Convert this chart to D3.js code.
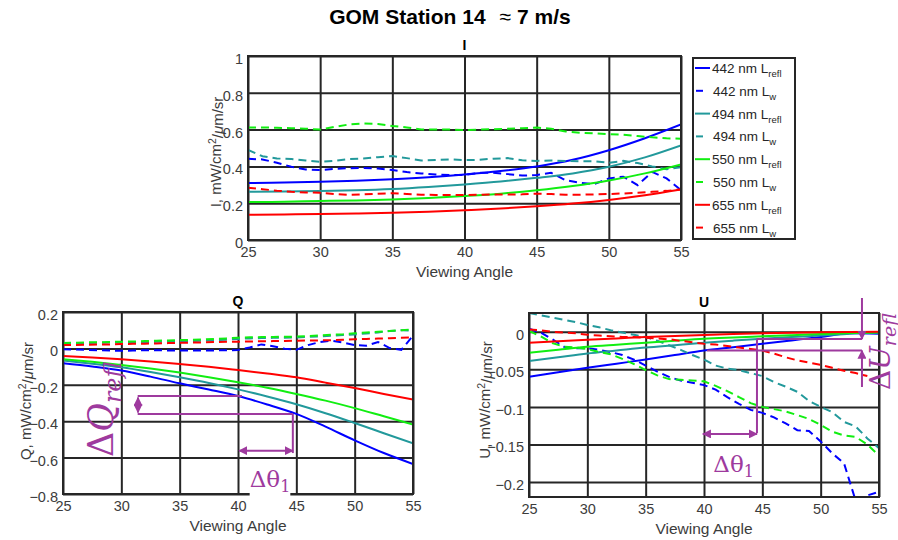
<!DOCTYPE html>
<html>
<head>
<meta charset="utf-8">
<script src="https://cdn.jsdelivr.net/npm/d3@7"></script>
<style>
  body { margin: 0; background: #fff; }
  svg { display: block; }
</style>
</head>
<body>
<svg id="chart" width="898" height="540"></svg>
<script>
// ---- sample angles -------------------------------------------------------
const angles = [25,26,27,28,29,30,31,32,33,34,35,36,37,38,39,40,41,42,43,44,45,46,47,48,49,50,51,52,53,54,55];
const smoothAngles = [25,27.5,30,32.5,35,37.5,40,42.5,45,47.5,50,52.5,55];
const xTicks = [25,30,35,40,45,50,55];
const iTicks = [0,0.2,0.4,0.6,0.8,1];
const qTicks = [-0.8,-0.6,-0.4,-0.2,0,0.2];
const uTicks = [-0.2,-0.15,-0.1,-0.05,0];
const wavelengths = ["442","494","550","655"];

// ---- I: reflected radiance (smooth) and water-leaving radiance ------------
const iRefl442 = [0.310,0.312,0.316,0.322,0.330,0.341,0.356,0.375,0.400,0.436,0.488,0.553,0.628];
const iRefl494 = [0.262,0.263,0.266,0.270,0.277,0.288,0.302,0.318,0.338,0.362,0.398,0.449,0.514];
const iRefl550 = [0.206,0.208,0.212,0.215,0.220,0.228,0.239,0.252,0.270,0.293,0.323,0.362,0.411];
const iRefl655 = [0.137,0.139,0.141,0.144,0.148,0.154,0.162,0.171,0.183,0.198,0.218,0.243,0.274];
const iLw442 = [0.441,0.438,0.420,0.398,0.383,0.380,0.387,0.390,0.391,0.388,0.380,0.369,0.362,0.356,0.353,0.353,0.365,0.365,0.358,0.350,0.353,0.365,0.325,0.311,0.304,0.335,0.344,0.298,0.370,0.335,0.271];
const iLw494 = [0.490,0.455,0.443,0.440,0.432,0.425,0.430,0.440,0.443,0.450,0.456,0.445,0.432,0.435,0.438,0.434,0.436,0.442,0.445,0.433,0.430,0.432,0.430,0.428,0.428,0.420,0.430,0.418,0.400,0.385,0.395];
const iLw550 = [0.611,0.612,0.610,0.608,0.605,0.600,0.615,0.628,0.633,0.630,0.620,0.612,0.600,0.600,0.600,0.597,0.600,0.602,0.605,0.608,0.611,0.605,0.590,0.583,0.580,0.575,0.572,0.565,0.558,0.553,0.550];
const iLw655 = [0.284,0.276,0.268,0.262,0.258,0.257,0.250,0.245,0.248,0.252,0.254,0.250,0.246,0.245,0.245,0.244,0.246,0.248,0.247,0.248,0.252,0.250,0.246,0.246,0.248,0.250,0.253,0.257,0.262,0.267,0.275];

// ---- Q ---------------------------------------------------------------------
const qRefl442 = [-0.082,-0.100,-0.122,-0.155,-0.192,-0.226,-0.262,-0.308,-0.360,-0.430,-0.505,-0.575,-0.635];
const qRefl494 = [-0.067,-0.084,-0.104,-0.130,-0.159,-0.190,-0.225,-0.264,-0.307,-0.356,-0.410,-0.466,-0.522];
const qRefl550 = [-0.060,-0.074,-0.091,-0.111,-0.133,-0.158,-0.186,-0.216,-0.250,-0.287,-0.328,-0.373,-0.418];
const qRefl655 = [-0.042,-0.050,-0.060,-0.072,-0.086,-0.101,-0.119,-0.138,-0.159,-0.188,-0.218,-0.250,-0.281];
const qLw442 = [-0.005,-0.006,-0.008,-0.010,-0.012,-0.013,-0.012,-0.010,-0.010,-0.011,-0.012,-0.012,-0.011,-0.011,-0.010,-0.009,0.005,0.022,0.012,-0.002,-0.008,0.018,0.035,0.042,0.032,0.018,0.015,0.035,0.002,-0.008,0.070];
const qLw494 = [0.028,0.029,0.030,0.031,0.032,0.033,0.034,0.035,0.036,0.038,0.040,0.041,0.043,0.045,0.048,0.052,0.055,0.057,0.058,0.058,0.060,0.063,0.066,0.070,0.073,0.077,0.082,0.088,0.095,0.100,0.098];
const qLw550 = [0.030,0.031,0.033,0.034,0.035,0.037,0.038,0.040,0.042,0.044,0.046,0.047,0.049,0.052,0.055,0.059,0.061,0.062,0.063,0.064,0.065,0.068,0.071,0.075,0.078,0.083,0.087,0.091,0.096,0.100,0.105];
const qLw655 = [0.018,0.019,0.020,0.021,0.022,0.024,0.025,0.026,0.027,0.029,0.031,0.032,0.033,0.035,0.036,0.037,0.038,0.039,0.040,0.041,0.042,0.043,0.044,0.045,0.047,0.050,0.052,0.054,0.056,0.058,0.060];

// ---- U ---------------------------------------------------------------------
const uRefl442 = [-0.060,-0.054,-0.048,-0.0425,-0.037,-0.031,-0.025,-0.0205,-0.016,-0.0115,-0.007,-0.002,-0.0025];
const uRefl494 = [-0.039,-0.034,-0.029,-0.025,-0.021,-0.0178,-0.0146,-0.0118,-0.0092,-0.0070,-0.0050,-0.0025,-0.0010];
const uRefl550 = [-0.028,-0.024,-0.020,-0.0172,-0.0146,-0.0118,-0.0092,-0.0075,-0.0060,-0.0045,-0.0030,-0.0015,-0.0008];
const uRefl655 = [-0.0146,-0.0125,-0.0106,-0.0088,-0.0070,-0.0055,-0.0042,-0.0030,-0.0020,-0.0012,-0.0006,-0.0002,0.0];
const uLw442 = [0.004,-0.001,-0.010,-0.020,-0.022,-0.022,-0.024,-0.027,-0.031,-0.037,-0.045,-0.053,-0.060,-0.065,-0.068,-0.071,-0.077,-0.087,-0.096,-0.104,-0.108,-0.114,-0.122,-0.131,-0.132,-0.146,-0.162,-0.175,-0.225,-0.218,-0.213];
const uLw494 = [0.025,0.022,0.019,0.016,0.013,0.009,0.006,0.002,-0.001,-0.004,-0.007,-0.012,-0.018,-0.024,-0.031,-0.037,-0.045,-0.049,-0.051,-0.055,-0.059,-0.067,-0.073,-0.080,-0.092,-0.100,-0.107,-0.120,-0.126,-0.142,-0.155];
const uLw550 = [0.001,-0.006,-0.015,-0.020,-0.021,-0.023,-0.027,-0.030,-0.036,-0.043,-0.051,-0.058,-0.063,-0.064,-0.065,-0.066,-0.072,-0.079,-0.087,-0.095,-0.100,-0.103,-0.106,-0.111,-0.116,-0.124,-0.133,-0.138,-0.140,-0.150,-0.165];
const uLw655 = [0.003,0.002,0.000,-0.001,-0.002,-0.004,-0.005,-0.006,-0.007,-0.007,-0.008,-0.009,-0.010,-0.012,-0.014,-0.016,-0.017,-0.019,-0.021,-0.023,-0.025,-0.029,-0.034,-0.038,-0.041,-0.044,-0.048,-0.052,-0.055,-0.059,null];

// ---- styling ----------------------------------------------------------------
const colors = { "442": "#0000ff", "494": "#22999b", "550": "#11ee11", "655": "#ff0000" };
const purple = "#9e3a9e";
const gridColor = "#262626";
const labelColor = "#3c3c3c";
const sansFont = "'Liberation Sans', Arial, sans-serif";
const mathFont = "'DejaVu Serif', 'Liberation Serif', serif";
const dash = "8,5";

const svg = d3.select("#chart");
const defs = svg.append("defs");

["start", "end"].forEach(kind => {
  defs.append("marker")
    .attr("id", "arrow-" + kind)
    .attr("viewBox", "0 0 10 10")
    .attr("refX", kind === "end" ? 9 : 1).attr("refY", 5)
    .attr("markerWidth", 4.5).attr("markerHeight", 4.5)
    .attr("markerUnits", "strokeWidth")
    .attr("orient", "auto")
    .append("path")
    .attr("d", kind === "end" ? "M0,0 L10,5 L0,10 Z" : "M10,0 L0,5 L10,10 Z")
    .attr("fill", purple);
});

// Main title
const title = svg.append("text")
  .attr("x", 450).attr("y", 24)
  .attr("text-anchor", "middle")
  .attr("font-family", sansFont)
  .attr("font-size", 21)
  .attr("font-weight", "bold")
  .attr("fill", "#000");
title.append("tspan").text("GOM Station 14");
title.append("tspan").attr("dx", 14).attr("font-weight", "normal").text("\u2248");
title.append("tspan").attr("dx", 6).text("7 m/s");

function drawPanel(cfg) {
  const x = d3.scaleLinear().domain([25, 55]).range([cfg.left, cfg.right]);
  const y = d3.scaleLinear().domain(cfg.yDomain).range([cfg.bottom, cfg.top]);
  const g = svg.append("g");
  const w = cfg.right - cfg.left, h = cfg.bottom - cfg.top;

  g.append("rect").attr("x", cfg.left).attr("y", cfg.top)
    .attr("width", w).attr("height", h).attr("fill", "#fff");

  // gridded axes
  const xAxis = g.append("g")
    .attr("transform", `translate(0,${cfg.bottom})`)
    .call(d3.axisBottom(x).tickValues(xTicks).tickSize(-h).tickPadding(7).tickFormat(d3.format("d")));
  const yAxis = g.append("g")
    .attr("transform", `translate(${cfg.left},0)`)
    .call(d3.axisLeft(y).tickValues(cfg.yTicks).tickSize(-w).tickPadding(5).tickFormat(cfg.fmt));
  [xAxis, yAxis].forEach(a => {
    a.select(".domain").remove();
    a.selectAll(".tick line").attr("stroke", gridColor).attr("stroke-width", 2);
    a.selectAll(".tick text")
      .attr("fill", labelColor)
      .attr("font-family", sansFont)
      .attr("font-size", 14.5);
  });
  yAxis.selectAll(".tick text").attr("dy", "0.52em");

  // data lines, clipped to the plot box
  const clipId = "clip-" + cfg.name;
  defs.append("clipPath").attr("id", clipId).append("rect")
    .attr("x", cfg.left).attr("y", cfg.top).attr("width", w).attr("height", h);
  const lines = g.append("g").attr("clip-path", `url(#${clipId})`);

  wavelengths.forEach((wl, i) => {
    const refl = cfg.refl[i], lw = cfg.lw[i];
    const smooth = d3.line().curve(d3.curveMonotoneX)
      .x((d, k) => x(smoothAngles[k])).y(d => y(d));
    lines.append("path").datum(refl)
      .attr("d", smooth).attr("fill", "none")
      .attr("stroke", colors[wl]).attr("stroke-width", 2);
    const rough = d3.line().defined(d => d !== null)
      .x((d, k) => x(angles[k])).y(d => y(d));
    lines.append("path").datum(lw)
      .attr("d", rough).attr("fill", "none")
      .attr("stroke", colors[wl]).attr("stroke-width", 2)
      .attr("stroke-dasharray", dash);
  });

  // frame
  g.append("rect").attr("x", cfg.left).attr("y", cfg.top)
    .attr("width", w).attr("height", h)
    .attr("fill", "none").attr("stroke", gridColor).attr("stroke-width", 2);

  // panel title
  g.append("text").attr("x", (cfg.left + cfg.right) / 2).attr("y", cfg.top - 6)
    .attr("text-anchor", "middle").attr("font-family", sansFont)
    .attr("font-size", 14).attr("font-weight", "bold").attr("fill", "#000")
    .text(cfg.name);

  // x label
  g.append("text").attr("x", (cfg.left + cfg.right) / 2).attr("y", cfg.bottom + 37)
    .attr("text-anchor", "middle").attr("font-family", sansFont)
    .attr("font-size", 15.5).attr("fill", labelColor)
    .text("Viewing Angle");

  // y label with superscript and Greek mu
  const yl = g.append("text")
    .attr("transform", `translate(${cfg.yLabelX},${cfg.yLabelY}) rotate(-90)`)
    .attr("text-anchor", "middle").attr("font-family", sansFont)
    .attr("font-size", 15).attr("fill", labelColor);
  yl.append("tspan").text(cfg.name + ", mW/cm");
  yl.append("tspan").attr("dy", "-0.45em").attr("font-size", 10.5).text("2");
  yl.append("tspan").attr("dy", "0.45em").text("/");
  yl.append("tspan").attr("font-style", "italic").text("\u03bc");
  yl.append("tspan").text("m/sr");

  return { x, y, g };
}

const panelI = drawPanel({
  name: "I", left: 248, right: 681, top: 56, bottom: 240,
  yDomain: [0, 1], yTicks: iTicks, fmt: d => d3.format("")(d),
  refl: [iRefl442, iRefl494, iRefl550, iRefl655],
  lw: [iLw442, iLw494, iLw550, iLw655],
  yLabelX: 221, yLabelY: 152
});
const panelQ = drawPanel({
  name: "Q", left: 63, right: 413, top: 312, bottom: 494,
  yDomain: [-0.8, 0.2], yTicks: qTicks, fmt: d => d3.format("")(+d.toFixed(1)),
  refl: [qRefl442, qRefl494, qRefl550, qRefl655],
  lw: [qLw442, qLw494, qLw550, qLw655],
  yLabelX: 31, yLabelY: 401
});
const panelU = drawPanel({
  name: "U", left: 529, right: 879, top: 313, bottom: 497,
  yDomain: [-0.22, 0.025], yTicks: uTicks, fmt: d => d3.format("")(+d.toFixed(2)),
  refl: [uRefl442, uRefl494, uRefl550, uRefl655],
  lw: [uLw442, uLw494, uLw550, uLw655],
  yLabelX: 490, yLabelY: 400
});

// ---- legend -----------------------------------------------------------------
const legend = svg.append("g");
legend.append("rect").attr("x", 693).attr("y", 58).attr("width", 102).attr("height", 181)
  .attr("fill", "#fff").attr("stroke", gridColor).attr("stroke-width", 2);
const legendItems = [];
wavelengths.forEach(wl => {
  legendItems.push({ wl, kind: "refl" });
  legendItems.push({ wl, kind: "w" });
});
legendItems.forEach((it, i) => {
  const cy = 68 + i * 22.8;
  if (it.kind === "refl") {
    legend.append("line").attr("x1", 695).attr("x2", 710).attr("y1", cy).attr("y2", cy)
      .attr("stroke", colors[it.wl]).attr("stroke-width", 2);
  } else {
    legend.append("line").attr("x1", 696).attr("x2", 703).attr("y1", cy).attr("y2", cy)
      .attr("stroke", colors[it.wl]).attr("stroke-width", 2);
  }
  const t = legend.append("text").attr("x", it.kind === "refl" ? 712 : 713).attr("y", cy + 5)
    .attr("font-family", sansFont).attr("font-size", 13.5).attr("fill", "#262626");
  t.append("tspan").text(it.wl + " nm L");
  t.append("tspan").attr("dy", 4).attr("font-size", 9.5).text(it.kind);
});

// ---- annotations --------------------------------------------------------------
function seg(panel, a0, v0, a1, v1, markers) {
  const l = svg.append("line")
    .attr("x1", panel.x(a0)).attr("y1", panel.y(v0))
    .attr("x2", panel.x(a1)).attr("y2", panel.y(v1))
    .attr("stroke", purple).attr("stroke-width", 2);
  if (markers && markers.start) l.attr("marker-start", "url(#arrow-start)");
  if (markers && markers.end) l.attr("marker-end", "url(#arrow-end)");
  return l;
}

function thetaLabel(panel, a, v) {
  const grp = svg.append("g");
  const bg = grp.append("rect").attr("fill", "#fff");
  const t = grp.append("text").attr("x", panel.x(a)).attr("y", panel.y(v))
    .attr("font-family", mathFont).attr("font-size", 23).attr("fill", purple);
  t.append("tspan").text("\u0394\u03b8");
  t.append("tspan").attr("dy", 5).attr("font-size", 16).text("1");
  const bb = t.node().getBBox();
  bg.attr("x", bb.x).attr("y", bb.y + 3).attr("width", bb.width).attr("height", bb.height - 3);
}

function deltaLabel(panel, a, v, letter, size) {
  const t = svg.append("text")
    .attr("transform", `translate(${panel.x(a)},${panel.y(v)}) rotate(-90)`)
    .attr("font-family", mathFont).attr("font-size", size).attr("fill", purple);
  t.append("tspan").text("\u0394");
  t.append("tspan").attr("font-style", "italic").text(letter);
  t.append("tspan").attr("dy", size * 0.22).attr("font-size", size * 0.68)
    .attr("font-style", "italic").text("refl");
}

// Q panel: change of reflected Q between 40 and 45 degrees
seg(panelQ, 31.4, -0.262, 40.34, -0.262);
seg(panelQ, 31.4, -0.360, 44.7, -0.360);
seg(panelQ, 31.43, -0.270, 31.43, -0.352, { start: true, end: true });
seg(panelQ, 44.7, -0.360, 44.7, -0.575);
seg(panelQ, 40.1, -0.562, 44.7, -0.562, { start: true, end: true });
thetaLabel(panelQ, 41.0, -0.762);
deltaLabel(panelQ, 29.3, -0.597, "Q", 35);

// U panel: change of reflected U between 40 and 45 degrees
seg(panelU, 44.54, -0.0096, 53.54, -0.0096);
seg(panelU, 40.26, -0.025, 53.54, -0.025);
seg(panelU, 44.54, -0.0096, 44.54, -0.135);
seg(panelU, 39.9, -0.136, 44.54, -0.136, { start: true, end: true });
seg(panelU, 53.54, 0.045, 53.54, -0.0096, { end: true });
seg(panelU, 53.54, -0.0735, 53.54, -0.025, { end: true });
thetaLabel(panelU, 40.8, -0.1867);
deltaLabel(panelU, 55.94, -0.0775, "U", 28);
</script>
</body>
</html>
